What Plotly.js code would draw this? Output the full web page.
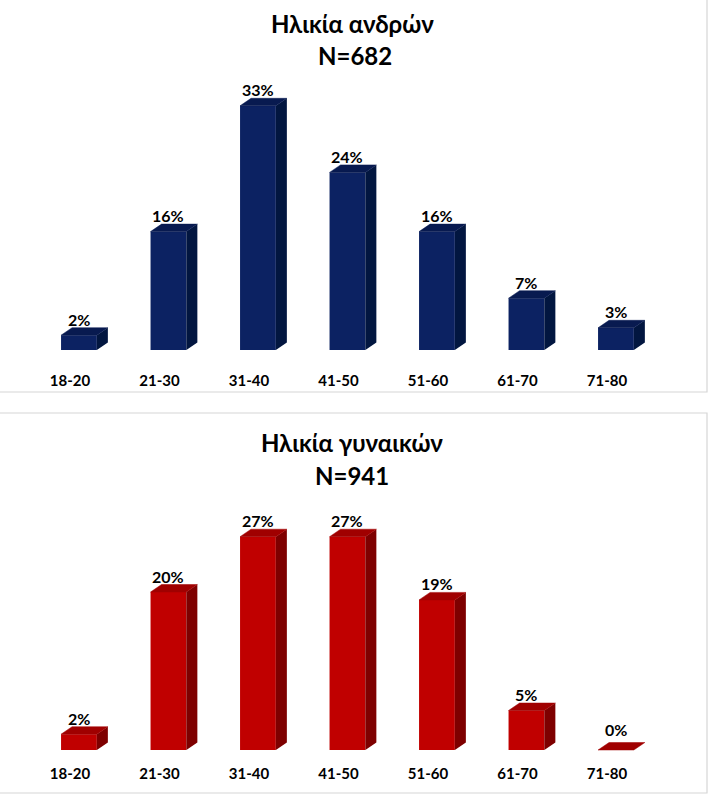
<!DOCTYPE html>
<html>
<head>
<meta charset="utf-8">
<script src="https://cdn.plot.ly/plotly-3.0.1.min.js"></script>
<style>html,body{margin:0;padding:0;background:#fff;}#chart{width:709px;height:795px;}</style>
</head>
<body>
<div id="chart"></div>
<script>
// ---- data ----
const categories = ["18-20", "21-30", "31-40", "41-50", "51-60", "61-70", "71-80"];
const menValues = [2, 16, 33, 24, 16, 7, 3];
const womenValues = [2, 20, 27, 27, 19, 5, 0];
const menTitle = "Ηλικία ανδρών";
const menN = "N=682";
const womenTitle = "Ηλικία γυναικών";
const womenN = "N=941";

// ---- style ----
const W = 709, H = 795;
const FONT = "Lato, 'Noto Sans', 'DejaVu Sans', sans-serif";
const barOffset = 0.1, barWidth = 0.4, depthX = 0.123;
const idx = categories.map((_, i) => i);

function yPaper(px) { return 1 - px / H; }

function panel(values, colors, xa, ya, depthY) {
  const xs = idx.map(i => i + barOffset);
  const traces = [];
  traces.push({
    type: "bar", x: xs, y: values, width: barWidth,
    marker: { color: colors.front, line: { width: 0 } },
    xaxis: xa, yaxis: ya, hoverinfo: "skip", showlegend: false
  });
  const sx = [], sy = [];
  const tx = [], ty = [];
  xs.forEach((c, i) => {
    const v = values[i];
    const l = c - barWidth / 2, r = c + barWidth / 2;
    if (v > 0) {
      sx.push(r, r + depthX, r + depthX, r, r, null);
      sy.push(0, depthY, v + depthY, v, 0, null);
    }
    tx.push(l, l + depthX, r + depthX, r, l, null);
    ty.push(v, v + depthY, v + depthY, v, v, null);
  });
  traces.push({
    type: "scatter", mode: "lines", x: sx, y: sy, fill: "toself",
    fillcolor: colors.side, line: { width: 0, color: colors.side },
    xaxis: xa, yaxis: ya, hoverinfo: "skip", showlegend: false
  });
  traces.push({
    type: "scatter", mode: "lines", x: tx, y: ty, fill: "toself",
    fillcolor: colors.top, line: { width: 0.5, color: colors.top },
    xaxis: xa, yaxis: ya, hoverinfo: "skip", showlegend: false
  });
  return traces;
}

function labels(values, xa, ya) {
  return values.map((v, i) => ({
    x: i + barOffset, y: v, xref: xa, yref: ya,
    text: v + "%", showarrow: false, yanchor: "middle", yshift: v === 0 ? 21 : 16,
    font: { family: FONT, size: 16, color: "#000", weight: "bold" }
  }));
}

const blue = { front: "#0C2262", side: "#021640", top: "#081a50" };
const red = { front: "#C00000", side: "#7E0000", top: "#A00000" };

const topBase = 350, topScale = 7.4, topAxisPx = 370, topTopPx = 60;
const botBase = 750, botScale = 7.9, botAxisPx = 763, botTopPx = 460;

const data = [
  ...panel(menValues, blue, "x", "y", 7.5 / topScale),
  ...panel(womenValues, red, "x2", "y2", 7.5 / botScale)
];

const xRange = [-70 / 89.5, (W - 70) / 89.5];
const axisX = (anchor) => ({
  domain: [0, 1], range: xRange, anchor: anchor,
  tickmode: "array", tickvals: idx, ticktext: categories,
  showgrid: false, zeroline: false, showline: false, ticks: "",
  tickfont: { family: FONT, size: 15, color: "#000", weight: "bold" },
  fixedrange: true
});

const titleFont = { family: FONT, size: 24, color: "#000", weight: "bold" };

const layout = {
  width: W, height: H,
  margin: { l: 0, r: 0, t: 0, b: 0 },
  paper_bgcolor: "#fff", plot_bgcolor: "rgba(0,0,0,0)",
  showlegend: false,
  xaxis: axisX("y"),
  xaxis2: axisX("y2"),
  yaxis: {
    domain: [yPaper(topAxisPx), yPaper(topTopPx)],
    range: [-(topAxisPx - topBase) / topScale, (topBase - topTopPx) / topScale],
    visible: false, fixedrange: true
  },
  yaxis2: {
    domain: [yPaper(botAxisPx), yPaper(botTopPx)],
    range: [-(botAxisPx - botBase) / botScale, (botBase - botTopPx) / botScale],
    visible: false, fixedrange: true
  },
  shapes: [
    { type: "rect", xref: "paper", yref: "paper", x0: -0.01, x1: 707 / W, y0: yPaper(392), y1: 1.01,
      line: { color: "#d6d6d6", width: 1.2 }, fillcolor: "rgba(0,0,0,0)", layer: "below" },
    { type: "rect", xref: "paper", yref: "paper", x0: -0.01, x1: 707 / W, y0: yPaper(793), y1: yPaper(413),
      line: { color: "#d6d6d6", width: 1.2 }, fillcolor: "rgba(0,0,0,0)", layer: "below" }
  ],
  annotations: [
    { text: menTitle, xref: "paper", yref: "paper", x: 352 / W, y: yPaper(24), showarrow: false,
      xanchor: "center", yanchor: "middle", font: titleFont },
    { text: menN, xref: "paper", yref: "paper", x: 355 / W, y: yPaper(56), showarrow: false,
      xanchor: "center", yanchor: "middle", font: titleFont },
    { text: womenTitle, xref: "paper", yref: "paper", x: 352 / W, y: yPaper(442), showarrow: false,
      xanchor: "center", yanchor: "middle", font: titleFont },
    { text: womenN, xref: "paper", yref: "paper", x: 352 / W, y: yPaper(475), showarrow: false,
      xanchor: "center", yanchor: "middle", font: titleFont },
    ...labels(menValues, "x", "y"),
    ...labels(womenValues, "x2", "y2")
  ]
};

Plotly.newPlot("chart", data, layout, { staticPlot: true, displayModeBar: false });
</script>
</body>
</html>
